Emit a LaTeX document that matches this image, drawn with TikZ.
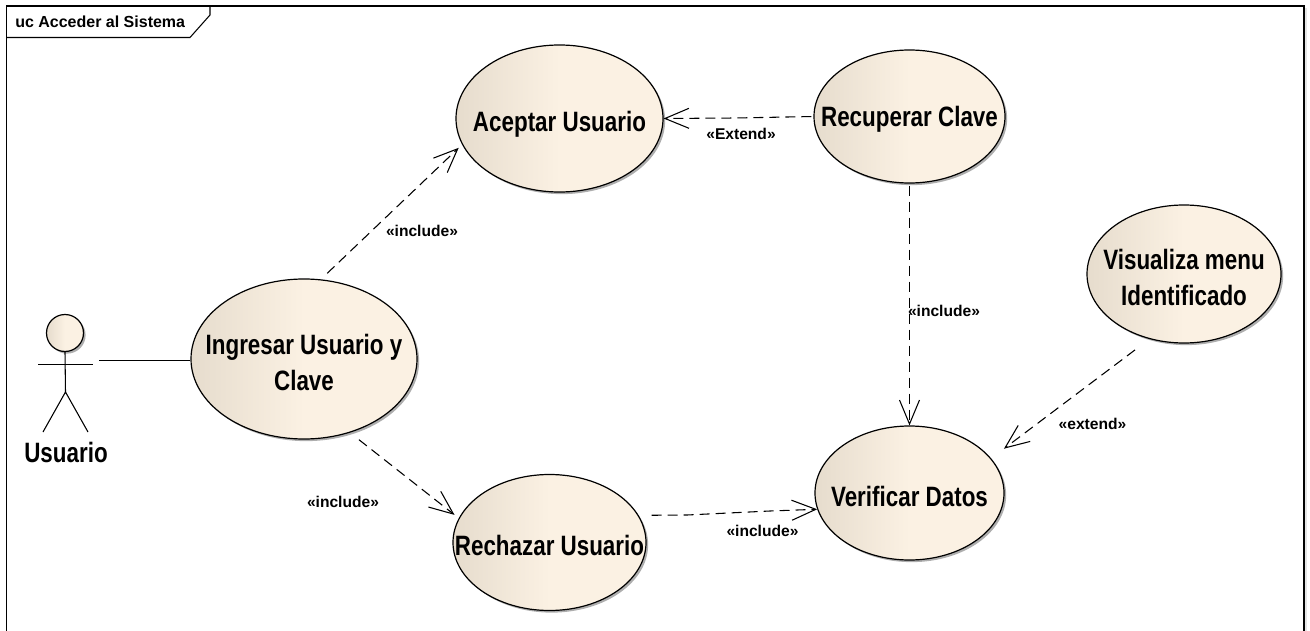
\documentclass[tikz,border=0pt]{standalone}
\usepackage{fontspec}
\setmainfont{Liberation Sans}
\newfontfamily\narrowfont[FakeStretch=0.8]{Liberation Sans}
\usepackage{tikz}
\usetikzlibrary{shapes.geometric}
\usetikzlibrary{arrows.meta}
\usetikzlibrary{shadows}
\definecolor{casedark}{HTML}{E6DCCD}
\definecolor{caselight}{HTML}{FBF1E3}
\newcommand{\casetext}[2][-9.8pt]{\raisebox{#1}[0pt][0pt]{\begin{tabular}{@{}c@{}}#2\end{tabular}}}
\tikzset{
caseshadow/.style={drop shadow={shadow xshift=1.6pt,shadow yshift=-1.6pt,fill=black!45,opacity=0.7}},
usecase/.style={ellipse,draw=black,line width=0.9pt,inner xsep=-60pt,inner ysep=0pt,left color=casedark,right color=caselight,middle color=caselight,caseshadow,font=\narrowfont\bfseries\fontsize{21}{27}\selectfont},
depend/.style={draw=black,line width=0.8pt,dash pattern=on 7.5pt off 4.5pt,-{Straight Barb[length=18pt,width=15pt,line width=0.8pt]}},
stereo/.style={font=\bfseries\fontsize{11.7}{14}\selectfont},
solidline/.style={draw=black,line width=0.8pt}
}
\begin{document}
\begin{tikzpicture}[x=0.75pt,y=-0.75pt]
\useasboundingbox (0,0) rectangle (1310,631);
% marco
\path (6.5,6) coordinate(nw) (1304,6) coordinate(ne) (1304,631) coordinate(se) (6.5,631) coordinate(sw);
\draw[black!10,line width=1.2pt] (1306,8) -- (1306,631);
\draw[solidline] (sw) -- (nw) -- (ne) -- (se);
\draw[solidline] (6.5,37.5) -- (190,37.5) -- (210,15) -- (210,6);
\path (15,22) node(titulo) [anchor=west,font=\bfseries\fontsize{12}{14}\selectfont,inner sep=0pt]{uc Acceder al Sistema};
% casos de uso
\path (559.5,118.5) node(aceptar) [usecase,minimum width=207*0.75pt,minimum height=147*0.75pt]{\casetext{Aceptar Usuario}};
\path (909.5,116.5) node(recuperar) [usecase,minimum width=191*0.75pt,minimum height=133*0.75pt]{\casetext[-7.6pt]{Recuperar Clave}};
\path (304,359) node(ingresar) [usecase,minimum width=226*0.75pt,minimum height=160*0.75pt]{\casetext{Ingresar Usuario y\\Clave}};
\path (549.5,542.5) node(rechazar) [usecase,minimum width=193*0.75pt,minimum height=136*0.75pt]{\casetext{Rechazar Usuario}};
\path (909.5,493) node(verificar) [usecase,minimum width=189*0.75pt,minimum height=134*0.75pt]{\casetext{Verificar Datos}};
\path (1184,274) node(visualiza) [usecase,minimum width=194*0.75pt,minimum height=138*0.75pt]{\casetext{Visualiza menu\\Identificado}};
% actor
\path (65,333) node(cabeza) [circle,draw=black,line width=0.9pt,inner sep=0pt,minimum size=37*0.75pt,left color=casedark,right color=caselight,middle color=caselight,caseshadow]{};
\path (65.5,392) coordinate(cadera);
\draw[solidline] (cabeza.south) -- (cadera);
\draw[solidline] (38,364.5) -- (93,364.5);
\draw[solidline] (43,432) -- (cadera) -- (88,432);
\path (66,452) node(usuario) [font=\narrowfont\bfseries\fontsize{21}{25}\selectfont,inner sep=0pt]{Usuario};
% relaciones
\path (99,360.5) coordinate(manoactor);
\draw[solidline] (manoactor) -- (ingresar.west |- manoactor);
\draw[depend,shorten <=6.5pt,shorten >=3.5pt] (ingresar.78) -- (aceptar.195);
\path (422,231) node(incluye1) [stereo]{«include»};
\draw[depend,shorten <=8.5pt,shorten >=4pt] (ingresar.-58) -- (rechazar.165);
\path (343,501.5) node(incluye2) [stereo]{«include»};
\draw[depend,shorten <=1.5pt] (recuperar.west) -- (735,118) -- (aceptar.east);
\path (741,134) node(extiende1) [stereo]{«Extend»};
\draw[depend,shorten <=1.5pt] (recuperar.south) -- (verificar.north);
\path (944,311) node(incluye3) [stereo]{«include»};
\draw[depend,shorten <=13.5pt,shorten >=12pt] (visualiza.-118) -- (verificar.23);
\path (1092.5,424) node(extiende2) [stereo]{«extend»};
\draw[depend] ([xshift=9.75pt]rechazar.17) -- (687,515) -- (770,511) -- (verificar.190);
\path (762.5,530.5) node(incluye4) [stereo]{«include»};
\end{tikzpicture}
\end{document}
